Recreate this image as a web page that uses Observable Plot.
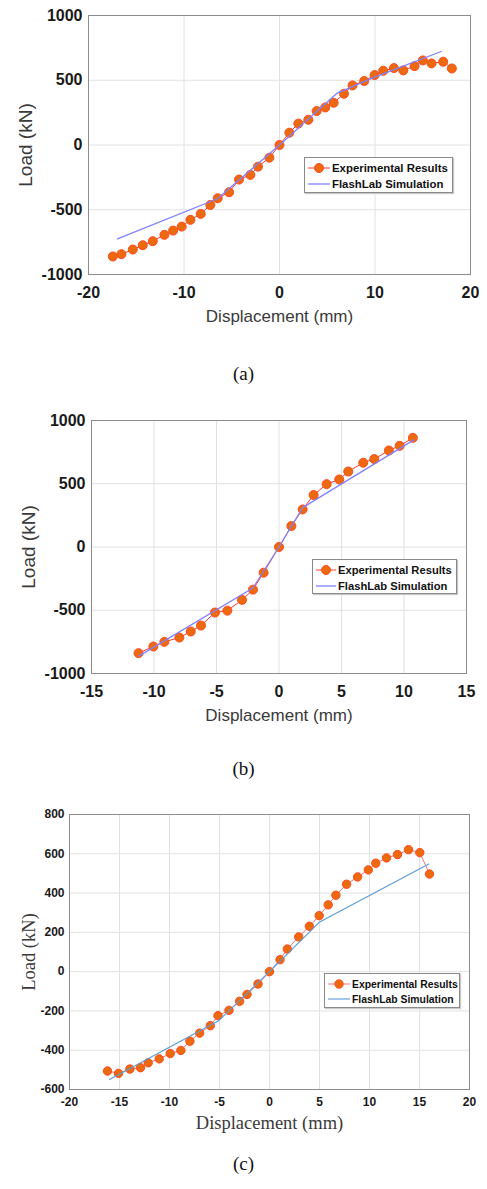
<!DOCTYPE html>
<html>
<head>
<meta charset="utf-8">
<script src="https://cdn.jsdelivr.net/npm/d3@7"></script>
<script src="https://cdn.jsdelivr.net/npm/@observablehq/plot@0.6"></script>
<style>
  body { margin: 0; background: #fff; }
  #wrap { position: relative; width: 487px; height: 1189px; overflow: hidden; background: #fff; }
  .panel { position: absolute; left: 0; }
  .legend { position: absolute; background: #fff; border: 1px solid #8a8a8a; box-shadow: 1px 1px 1px #c8c8c8;
            font-family: "Liberation Sans", Arial, sans-serif; font-weight: bold; color: #111; box-sizing: border-box; }
  .legend .row { position: absolute; left: 0; display: flex; align-items: center; white-space: nowrap; }
  .legend svg { display: block; }
  .cap { position: absolute; left: 0; width: 487px; text-align: center;
         font-family: "Liberation Serif", "Times New Roman", serif; font-size: 19px; color: #111; }
</style>
</head>
<body>
<div id="wrap"></div>
<script>
// ---------- Panel (a) ----------
const aExpX = [-17.45, -16.55, -15.36, -14.32, -13.27, -12.05, -11.14, -10.24, -9.33, -8.25, -7.24, -6.47, -5.28, -4.24, -3.05, -2.25, -1.06, 0, 1.03, 1.97, 3.02, 3.89, 4.79, 5.67, 6.75, 7.65, 8.87, 9.96, 10.86, 11.98, 12.96, 14.14, 15.01, 15.92, 17.14, 18.05];
const aExpY = [-861, -843, -807, -774, -743, -694, -661, -630, -578, -532, -463, -411, -365, -267, -231, -167, -98, 0, 95, 165, 195, 262, 290, 326, 396, 460, 494, 540, 573, 594, 576, 609, 653, 630, 643, 591];
const aSimX = [-16.97, -6.5, 0, 6.05, 9.9, 16.93];
const aSimY = [-725, -415, 0, 401, 522, 722];
const aXTicks = [-20, -10, 0, 10, 20];
const aYTicks = [-1000, -500, 0, 500, 1000];

// ---------- Panel (b) ----------
const bExpX = [-11.24, -10.05, -9.17, -7.97, -7.06, -6.24, -5.12, -4.13, -2.96, -2.08, -1.23, 0, 0.99, 1.89, 2.77, 3.81, 4.82, 5.54, 6.74, 7.62, 8.79, 9.65, 10.71];
const bExpY = [-839, -787, -750, -716, -668, -621, -518, -503, -418, -337, -203, 0, 166, 297, 411, 497, 534, 597, 666, 695, 763, 800, 863];
const bSimX = [-11.19, -2.08, 0, 1.89, 10.79];
const bSimY = [-861, -324, 0, 311, 847];
const bXTicks = [-15, -10, -5, 0, 5, 10, 15];
const bYTicks = [-1000, -500, 0, 500, 1000];

// ---------- Panel (c) ----------
const cExpX = [-16.2, -15.1, -13.96, -12.9, -12.13, -11.03, -9.93, -8.86, -7.96, -6.99, -5.92, -5.15, -4.05, -2.99, -2.25, -1.15, 0, 1.05, 1.78, 2.92, 3.99, 4.97, 5.87, 6.64, 7.71, 8.81, 9.88, 10.63, 11.7, 12.8, 13.9, 15.03, 16.0];
const cExpY = [-506, -518, -496, -489, -464, -444, -417, -401, -354, -313, -275, -224, -197, -151, -116, -63, 0, 61, 115, 177, 231, 285, 340, 389, 445, 482, 518, 552, 579, 596, 621, 606, 497];
const cSimX = [-16.0, -5.09, 0, 4.97, 15.93];
const cSimY = [-549, -250, 0, 251, 548];
const cXTicks = [-20, -15, -10, -5, 0, 5, 10, 15, 20];
const cYTicks = [-600, -400, -200, 0, 200, 400, 600, 800];

const legendLabels = ["Experimental Results", "FlashLab Simulation"];
const captions = ["(a)", "(b)", "(c)"];

const zip = (xs, ys) => xs.map((x, i) => ({x, y: ys[i]}));
const fmt = d => String(d);

const panels = [
  {top: 0, height: 335, mL: 88, mR: 17, mT: 15, mB: 61,
   xd: [-20, 20], yd: [-1000, 1000], xt: aXTicks, yt: aYTicks,
   exp: zip(aExpX, aExpY), sim: zip(aSimX, aSimY),
   tickFont: 16, tickPadX: 12, tickPadY: 6,
   labFont: "Liberation Sans, Arial, sans-serif", labSize: 17, yLabSize: 19, labColor: "#3a3a3a",
   xOff: 47, yOff: 70, r: 4.5, simColor: "#8080ff", simW: 1.3, expLine: "#ff3b30",
   legend: {left: 304, top: 157, w: 149, h: 36, rows: [10, 26], font: 11.4, sw: 27},
   cap: 363},
  {top: 400, height: 335, mL: 91, mR: 21, mT: 20, mB: 62,
   xd: [-15, 15], yd: [-1000, 1000], xt: bXTicks, yt: bYTicks,
   exp: zip(bExpX, bExpY), sim: zip(bSimX, bSimY),
   tickFont: 16, tickPadX: 12, tickPadY: 6,
   labFont: "Liberation Sans, Arial, sans-serif", labSize: 17, yLabSize: 19, labColor: "#3a3a3a",
   xOff: 47, yOff: 70, r: 4.5, simColor: "#8080ff", simW: 1.3, expLine: "#ff3b30",
   legend: {left: 312, top: 559, w: 145, h: 35, rows: [10, 26], font: 11.2, sw: 25},
   cap: 758},
  {top: 800, height: 335, mL: 69, mR: 18, mT: 14, mB: 46,
   xd: [-20, 20], yd: [-600, 800], xt: cXTicks, yt: cYTicks,
   exp: zip(cExpX, cExpY), sim: zip(cSimX, cSimY),
   tickFont: 12, tickPadX: 8, tickPadY: 5,
   labFont: "Liberation Serif, Times New Roman, serif", labSize: 18.5, yLabSize: 18.5, labColor: "#3a3a3a",
   xOff: 39, yOff: 48, r: 4.2, simColor: "#5b9bd5", simW: 1.1, expLine: "#ff7070",
   legend: {left: 324, top: 973, w: 136, h: 35, rows: [10, 25], font: 10.4, sw: 27},
   cap: 1153}
];

const wrap = document.getElementById("wrap");

panels.forEach((p, i) => {
  const chart = Plot.plot({
    width: 487,
    height: p.height,
    marginLeft: p.mL, marginRight: p.mR, marginTop: p.mT, marginBottom: p.mB,
    style: {background: "transparent", fontFamily: "Liberation Sans, Arial, sans-serif", overflow: "visible"},
    x: {domain: p.xd, ticks: p.xt},
    y: {domain: p.yd, ticks: p.yt},
    marks: [
      Plot.gridX(p.xt, {stroke: "#e2e2e2", strokeOpacity: 1}),
      Plot.gridY(p.yt, {stroke: "#e2e2e2", strokeOpacity: 1}),
      Plot.frame({stroke: "#8c8c8c", strokeWidth: 1}),
      Plot.axisX(p.xt, {tickSize: 0, tickPadding: p.tickPadX, fontSize: p.tickFont, fontWeight: "bold", fill: "#1a1a1a",
        tickFormat: fmt,
        label: "Displacement (mm)", labelAnchor: "center", labelArrow: "none", labelOffset: p.xOff}),
      Plot.axisY(p.yt, {tickSize: 0, tickPadding: p.tickPadY, fontSize: p.tickFont, fontWeight: "bold", fill: "#1a1a1a",
        tickFormat: fmt,
        label: "Load (kN)", labelAnchor: "center", labelArrow: "none", labelOffset: p.yOff}),
      Plot.line(p.exp, {x: "x", y: "y", stroke: p.expLine, strokeWidth: 1}),
      Plot.dot(p.exp, {x: "x", y: "y", r: p.r, fill: "#ec6a0e", stroke: "#ff4a22", strokeWidth: 1}),
      Plot.line(p.sim, {x: "x", y: "y", stroke: p.simColor, strokeWidth: p.simW})
    ]
  });
  chart.classList.add("panel");
  chart.style.top = p.top + "px";
  const sel = d3.select(chart);
  sel.selectAll('g[aria-label="x-axis label"], g[aria-label="x-axis label"] text')
    .attr("font-weight", "normal").attr("font-family", p.labFont).attr("font-size", p.labSize).attr("fill", p.labColor);
  sel.selectAll('g[aria-label="y-axis label"], g[aria-label="y-axis label"] text')
    .attr("font-weight", "normal").attr("font-family", p.labFont).attr("font-size", p.yLabSize).attr("fill", p.labColor);
  wrap.appendChild(chart);

  // legend
  const L = p.legend;
  const lg = document.createElement("div");
  lg.className = "legend";
  Object.assign(lg.style, {left: L.left + "px", top: L.top + "px", width: L.w + "px", height: L.h + "px", fontSize: L.font + "px"});
  legendLabels.forEach((txt, k) => {
    const row = document.createElement("div");
    row.className = "row";
    row.style.top = (L.rows[k] - 7) + "px";
    row.style.height = "14px";
    const s = d3.create("svg").attr("width", L.sw).attr("height", 14);
    if (k === 0) {
      s.append("line").attr("x1", 3).attr("x2", L.sw - 2).attr("y1", 7).attr("y2", 7).attr("stroke", p.expLine).attr("stroke-width", 1);
      s.append("circle").attr("cx", (L.sw + 1) / 2).attr("cy", 7).attr("r", p.r).attr("fill", "#ec6a0e").attr("stroke", "#ff4a22");
    } else {
      s.append("line").attr("x1", 3).attr("x2", L.sw - 2).attr("y1", 7).attr("y2", 7).attr("stroke", p.simColor).attr("stroke-width", p.simW);
    }
    row.appendChild(s.node());
    const t = document.createElement("span");
    t.textContent = txt;
    row.appendChild(t);
    lg.appendChild(row);
  });
  wrap.appendChild(lg);

  // caption
  const c = document.createElement("div");
  c.className = "cap";
  c.style.top = p.cap + "px";
  c.textContent = captions[i];
  wrap.appendChild(c);
});
</script>
</body>
</html>
